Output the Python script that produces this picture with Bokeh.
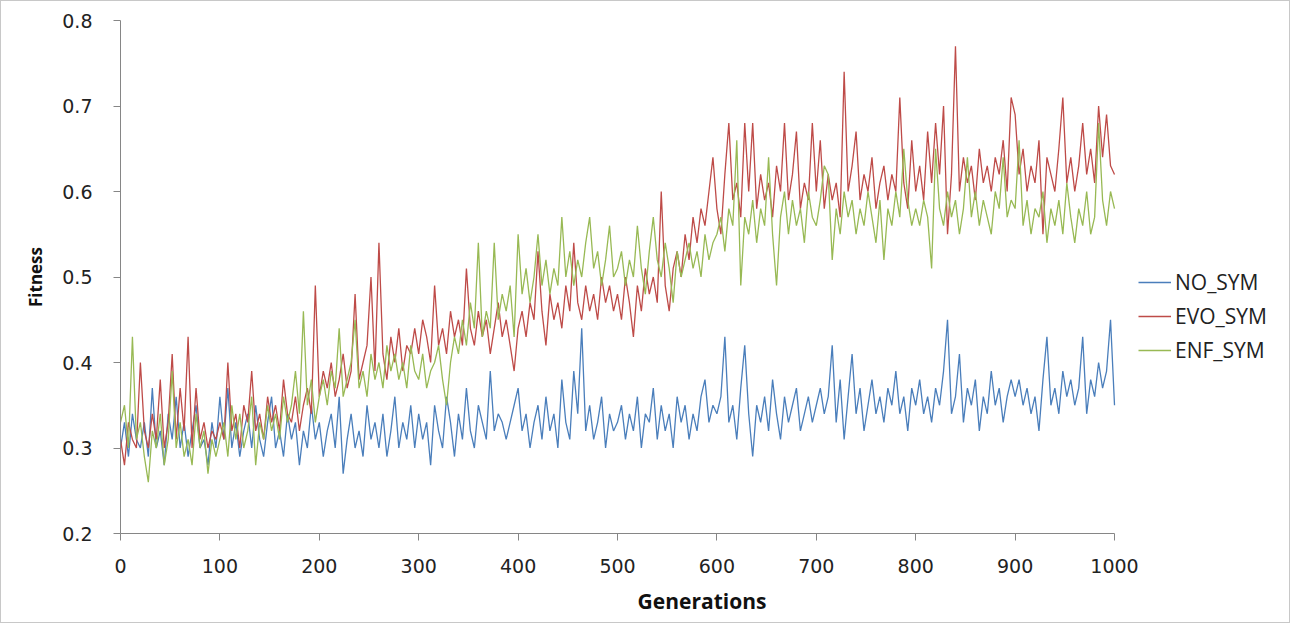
from bokeh.plotting import figure
from bokeh.models import Legend, LegendItem, FixedTicker
from bokeh.embed import file_html
from bokeh.resources import INLINE

GENERATIONS = list(range(0, 1001, 4))

NO_SYM = [
    0.30,0.33,0.29,0.34,0.31,0.30,0.33,0.29,0.37,0.30,0.32,0.28,0.34,0.31,0.36,0.30,0.33,0.29,0.32,0.35,0.30,0.31,0.28,0.33,0.30,
    0.36,0.31,0.37,0.30,0.33,0.29,0.32,0.34,0.30,0.35,0.31,0.29,0.33,0.36,0.30,0.32,0.29,0.34,0.31,0.33,0.28,0.32,0.30,0.35,0.31,
    0.33,0.29,0.32,0.34,0.30,0.36,0.27,0.31,0.34,0.30,0.32,0.29,0.35,0.31,0.33,0.30,0.34,0.29,0.32,0.36,0.30,0.33,0.31,0.35,0.30,
    0.34,0.31,0.33,0.28,0.35,0.32,0.30,0.36,0.33,0.29,0.34,0.31,0.37,0.32,0.30,0.35,0.33,0.31,0.39,0.32,0.34,0.33,0.31,0.33,0.35,
    0.37,0.32,0.34,0.30,0.33,0.35,0.31,0.36,0.32,0.34,0.30,0.38,0.33,0.31,0.39,0.34,0.44,0.32,0.35,0.31,0.33,0.36,0.30,0.34,0.32,
    0.33,0.35,0.31,0.34,0.32,0.36,0.30,0.34,0.33,0.37,0.31,0.35,0.32,0.34,0.30,0.36,0.33,0.35,0.31,0.34,0.32,0.36,0.38,0.33,0.35,
    0.34,0.36,0.43,0.33,0.35,0.31,0.37,0.42,0.34,0.29,0.35,0.33,0.36,0.32,0.38,0.34,0.31,0.36,0.33,0.35,0.37,0.32,0.34,0.36,0.33,
    0.35,0.37,0.34,0.36,0.42,0.33,0.38,0.31,0.36,0.41,0.34,0.37,0.32,0.35,0.38,0.34,0.36,0.33,0.37,0.35,0.39,0.34,0.36,0.32,0.37,
    0.35,0.38,0.34,0.36,0.33,0.37,0.35,0.39,0.45,0.34,0.36,0.41,0.33,0.37,0.35,0.38,0.32,0.36,0.34,0.39,0.35,0.37,0.33,0.36,0.38,
    0.36,0.38,0.35,0.37,0.34,0.36,0.32,0.38,0.43,0.35,0.37,0.34,0.39,0.36,0.38,0.35,0.37,0.43,0.34,0.38,0.36,0.40,0.37,0.39,0.45,0.35,
]

EVO_SYM = [
    0.31,0.28,0.33,0.31,0.30,0.40,0.32,0.30,0.34,0.31,0.38,0.30,0.33,0.41,0.31,0.37,0.32,0.43,0.30,0.37,0.31,0.33,0.30,0.32,0.31,
    0.33,0.31,0.40,0.32,0.34,0.30,0.35,0.33,0.39,0.32,0.34,0.31,0.36,0.33,0.35,0.32,0.38,0.34,0.33,0.36,0.32,0.35,0.37,0.34,0.49,
    0.36,0.39,0.37,0.40,0.36,0.38,0.41,0.37,0.39,0.48,0.38,0.40,0.42,0.50,0.39,0.54,0.41,0.38,0.43,0.40,0.44,0.39,0.42,0.41,0.44,
    0.41,0.45,0.43,0.40,0.49,0.42,0.44,0.41,0.46,0.43,0.45,0.42,0.51,0.44,0.42,0.46,0.43,0.45,0.41,0.44,0.47,0.43,0.45,0.42,0.39,
    0.44,0.46,0.43,0.47,0.45,0.53,0.46,0.42,0.48,0.45,0.47,0.44,0.49,0.46,0.54,0.47,0.45,0.49,0.46,0.48,0.45,0.50,0.47,0.49,0.46,
    0.48,0.45,0.50,0.47,0.43,0.49,0.46,0.51,0.48,0.50,0.47,0.60,0.49,0.46,0.51,0.53,0.50,0.55,0.52,0.57,0.54,0.58,0.56,0.60,0.64,
    0.58,0.55,0.62,0.68,0.59,0.61,0.57,0.68,0.60,0.68,0.58,0.62,0.59,0.61,0.57,0.63,0.60,0.68,0.59,0.62,0.67,0.58,0.61,0.59,0.68,
    0.60,0.66,0.58,0.62,0.59,0.61,0.57,0.74,0.60,0.63,0.67,0.59,0.62,0.60,0.64,0.58,0.61,0.63,0.59,0.62,0.60,0.71,0.61,0.58,0.66,
    0.60,0.63,0.59,0.67,0.61,0.68,0.62,0.70,0.55,0.62,0.77,0.60,0.64,0.61,0.63,0.59,0.65,0.61,0.63,0.60,0.64,0.62,0.66,0.60,0.71,
    0.69,0.62,0.65,0.60,0.63,0.61,0.66,0.55,0.64,0.62,0.60,0.65,0.71,0.61,0.64,0.60,0.63,0.68,0.62,0.65,0.61,0.70,0.64,0.69,0.63,0.62,
]

ENF_SYM = [
    0.33,0.35,0.30,0.43,0.31,0.33,0.29,0.26,0.32,0.30,0.34,0.28,0.31,0.39,0.30,0.33,0.29,0.31,0.28,0.34,0.30,0.32,0.27,0.31,0.29,
    0.31,0.33,0.29,0.35,0.31,0.34,0.30,0.32,0.36,0.28,0.33,0.31,0.35,0.32,0.34,0.31,0.36,0.33,0.35,0.39,0.34,0.46,0.35,0.38,0.33,
    0.36,0.38,0.35,0.39,0.37,0.44,0.36,0.38,0.40,0.45,0.37,0.39,0.36,0.41,0.38,0.40,0.37,0.42,0.39,0.41,0.38,0.40,0.37,0.42,0.39,
    0.38,0.41,0.37,0.39,0.40,0.42,0.38,0.35,0.40,0.43,0.41,0.45,0.42,0.47,0.44,0.54,0.43,0.46,0.44,0.54,0.45,0.48,0.46,0.49,0.43,
    0.55,0.48,0.51,0.47,0.50,0.55,0.49,0.52,0.48,0.51,0.49,0.57,0.50,0.53,0.49,0.52,0.50,0.54,0.57,0.51,0.53,0.49,0.52,0.56,0.50,
    0.51,0.53,0.49,0.52,0.50,0.56,0.51,0.48,0.53,0.57,0.52,0.50,0.54,0.51,0.47,0.53,0.50,0.52,0.54,0.51,0.53,0.50,0.55,0.52,0.54,
    0.55,0.57,0.53,0.58,0.56,0.66,0.49,0.57,0.55,0.59,0.54,0.58,0.56,0.64,0.55,0.49,0.57,0.60,0.55,0.59,0.56,0.58,0.54,0.60,0.57,
    0.56,0.59,0.63,0.62,0.52,0.58,0.55,0.60,0.57,0.59,0.55,0.58,0.56,0.60,0.57,0.54,0.59,0.52,0.58,0.56,0.60,0.57,0.65,0.59,0.56,
    0.58,0.56,0.59,0.57,0.51,0.65,0.58,0.56,0.60,0.57,0.59,0.55,0.58,0.64,0.57,0.60,0.56,0.59,0.57,0.55,0.60,0.58,0.64,0.57,0.59,
    0.58,0.66,0.56,0.59,0.55,0.58,0.57,0.60,0.54,0.58,0.56,0.59,0.55,0.61,0.57,0.54,0.58,0.56,0.60,0.55,0.57,0.68,0.59,0.56,0.60,0.58,
]

SERIES_NAMES = ["NO_SYM", "EVO_SYM", "ENF_SYM"]
COLORS = ["#4A7EBB", "#BE4B48", "#98B954"]
X_TICKS = list(range(0, 1001, 100))
Y_TICKS = [0.2, 0.3, 0.4, 0.5, 0.6, 0.7, 0.8]

# frame extends to the right so the legend sits inside it; the x axis is bounded at 1000
p = figure(width=1290, height=623, output_backend="svg", toolbar_location=None,
           x_range=(0, 1170), y_range=(0.2, 0.8),
           min_border_left=119, min_border_right=8, min_border_top=19, min_border_bottom=91)
p.styles = {"border": "1px solid #C8C8C8", "box-sizing": "border-box"}
p.outline_line_color = None
p.xgrid.visible = False
p.ygrid.visible = False
p.background_fill_color = "white"
p.border_fill_color = "white"

renderers = []
for name, vals, col in zip(SERIES_NAMES, [NO_SYM, EVO_SYM, ENF_SYM], COLORS):
    r = p.line(GENERATIONS, vals, line_color=col, line_width=1.3)
    renderers.append(r)

axis_color = "#868686"
for ax in (p.xaxis[0], p.yaxis[0]):
    ax.axis_line_color = axis_color
    ax.major_tick_line_color = axis_color
    ax.minor_tick_line_color = None
    ax.major_tick_out = 7
    ax.major_tick_in = 0
    ax.major_label_text_font = "DejaVu Sans"
    ax.major_label_text_font_size = "19px"
    ax.major_label_text_color = "#222222"
    ax.axis_label_text_font = "Open Sans"
    ax.axis_label_text_font_style = "bold"
    ax.axis_label_text_color = "#111111"

p.xaxis[0].bounds = (0, 1000)
p.xaxis[0].ticker = FixedTicker(ticks=X_TICKS)
p.yaxis[0].ticker = FixedTicker(ticks=Y_TICKS)
p.xaxis[0].axis_label = "Generations"
p.yaxis[0].axis_label = "Fitness"
p.xaxis[0].axis_label_text_font_size = "21px"
p.yaxis[0].axis_label_text_font_size = "17px"
p.xaxis[0].major_label_standoff = 18
p.yaxis[0].major_label_standoff = 21
p.xaxis[0].axis_label_standoff = 11
p.yaxis[0].axis_label_standoff = 12

legend = Legend(items=[LegendItem(label=n, renderers=[r]) for n, r in zip(SERIES_NAMES, renderers)],
                location=(1018, 169), orientation="vertical")
legend.border_line_color = None
legend.background_fill_alpha = 0
legend.label_text_font = "Open Sans"
legend.label_text_font_size = "21px"
legend.label_text_color = "#222222"
legend.glyph_width = 33
legend.glyph_height = 20
legend.label_height = 20
legend.spacing = 6
legend.padding = 5
legend.margin = 0
legend.label_standoff = 4
p.add_layout(legend)

open("out.html", "w").write(file_html(p, INLINE))
